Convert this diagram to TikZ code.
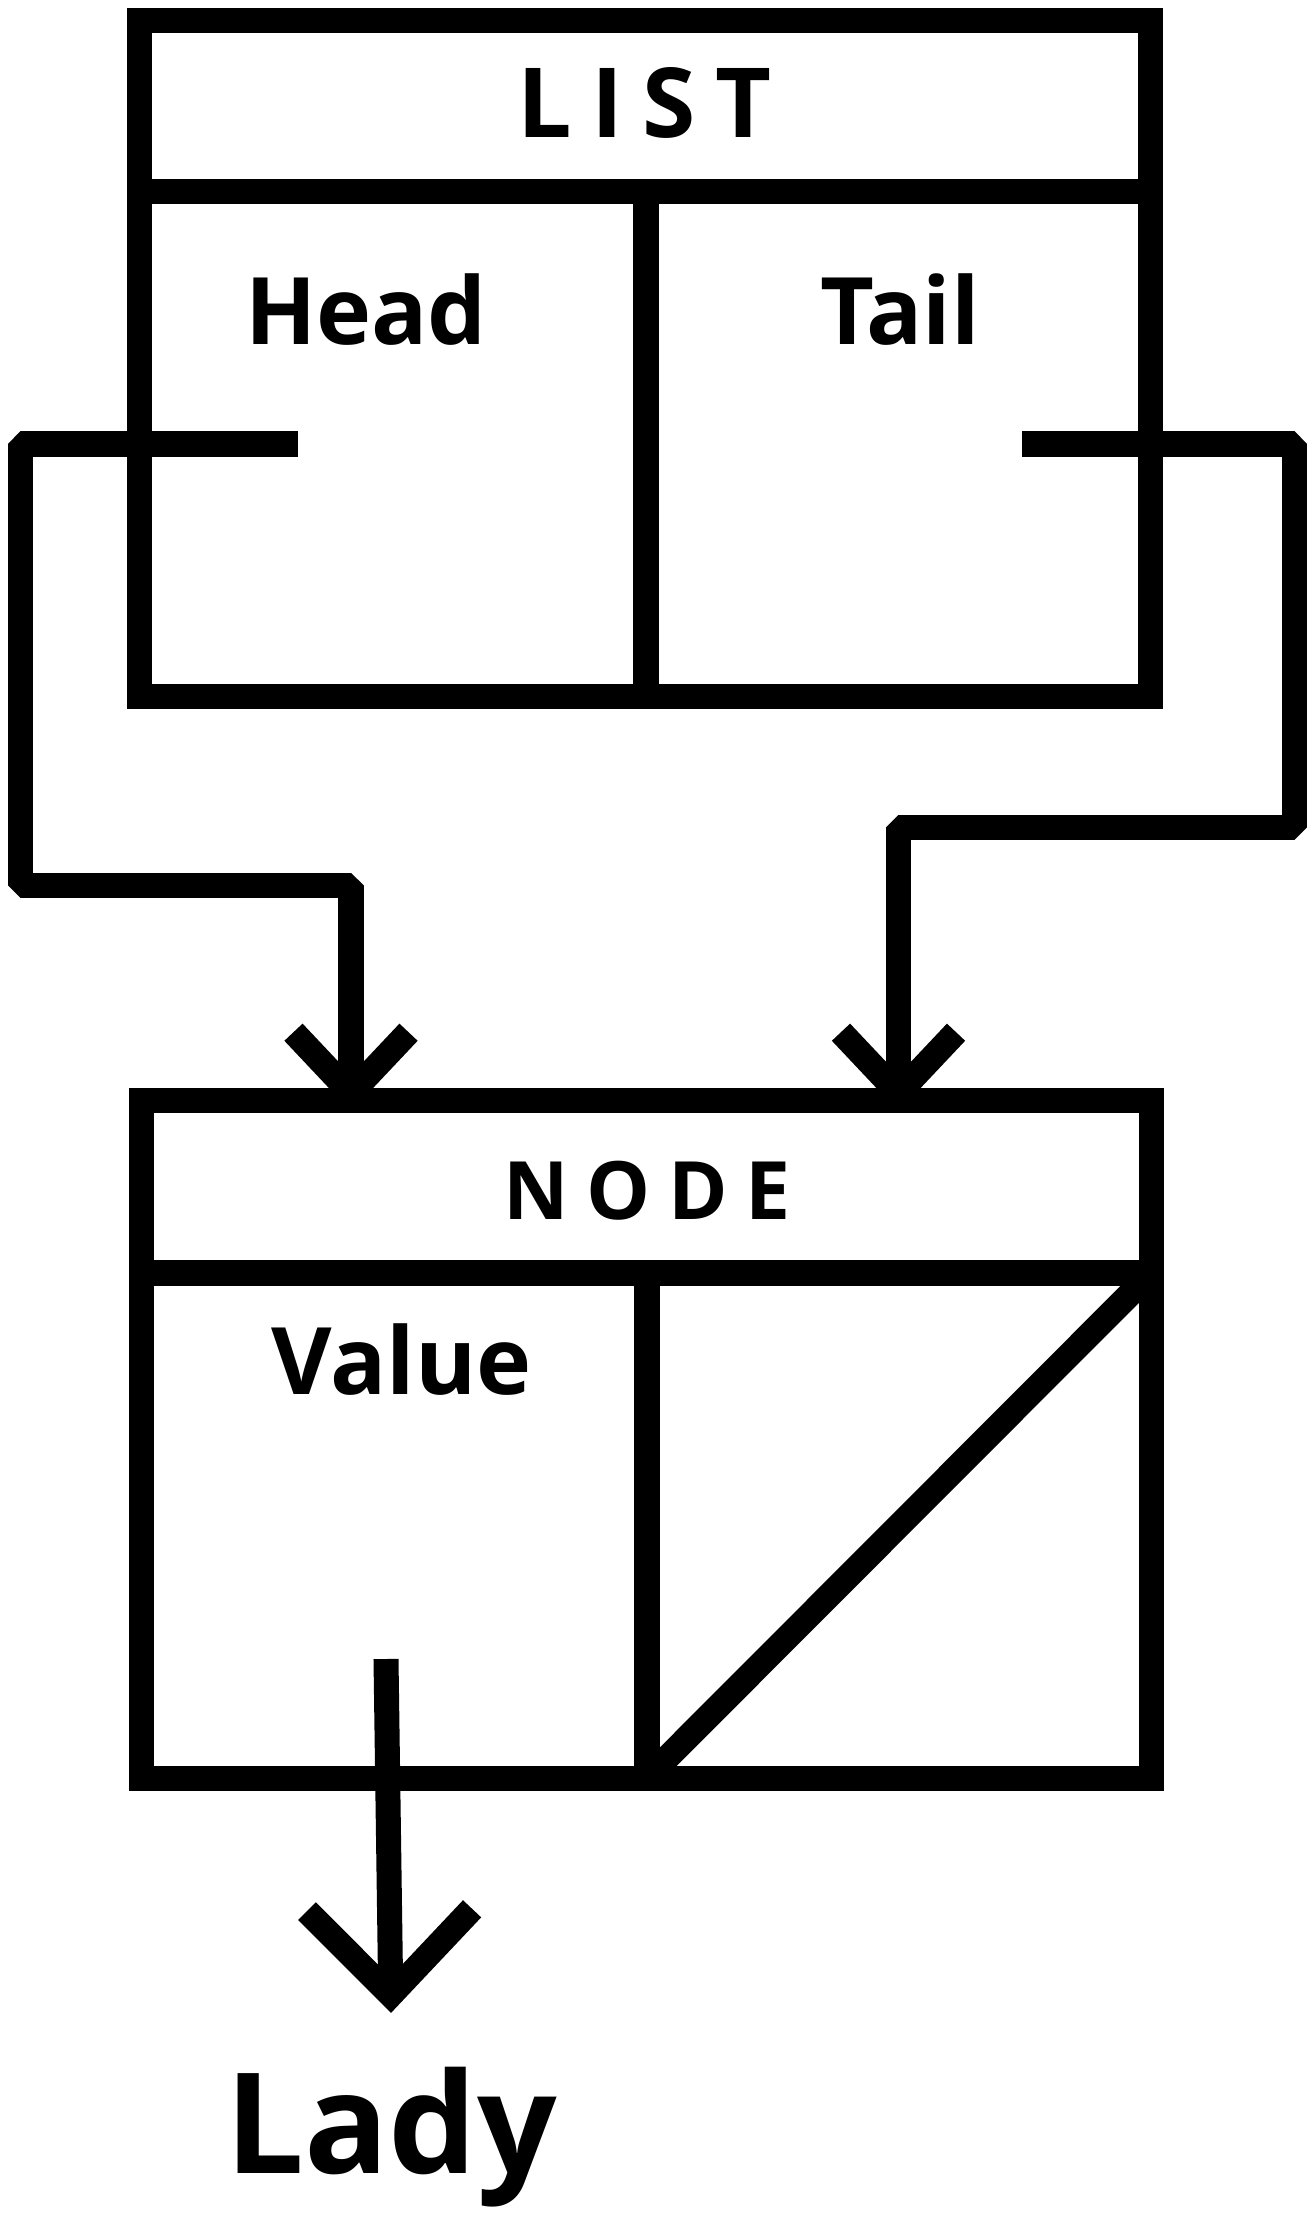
\documentclass[tikz,border=0pt]{standalone}
\usepackage{fontspec}
\setmainfont{Open Sans}
\newfontfamily\listfont[LetterSpace=20]{Open Sans}
\newfontfamily\nodefont[LetterSpace=22]{Open Sans}
\usepackage{tikz}
\usetikzlibrary{arrows.meta}

\begin{document}
\begin{tikzpicture}[
    x=0.01cm, y=-0.01cm,
    cell/.style={draw, rectangle, inner sep=0pt, line width=0.25cm},
    field/.style={font=\bfseries\fontsize{26.5}{30}\selectfont, anchor=base, inner sep=0pt},
    link/.style={line width=0.25cm, line join=bevel,
        -{Straight Barb[line cap=butt, line join=miter, length=6.1mm, width=11.5mm]}}
]
\useasboundingbox (0,0) rectangle (1315,2239);

% List record
\node[cell, minimum width=10.105cm, minimum height=1.71cm] (listtitle) at (645.25,106) {};
\node[cell, minimum width=5.06cm, minimum height=5.045cm] (headcell) at (393,443.75) {};
\node[cell, minimum width=5.045cm, minimum height=5.045cm] (tailcell) at (898.25,443.75) {};
\node[field, font=\listfont\bfseries\fontsize{27.5}{30}\selectfont] (listlbl) at (644.5,137) {LIST};
\node[field] (headlbl) at (366,344) {Head};
\node[field] (taillbl) at (900,344) {Tail};

% Node record
\node[cell, minimum width=10.09cm, minimum height=1.72cm] (nodetitle) at (646.5,1187) {};
\node[cell, minimum width=5.05cm, minimum height=5.05cm] (valuecell) at (394.5,1525.5) {};
\node[cell, minimum width=5.04cm, minimum height=5.05cm] (nextcell) at (899,1525.5) {};
\node[field, font=\nodefont\bfseries\fontsize{22.9}{26}\selectfont] (nodelbl) at (647,1219.5) {NODE};
\node[field] (valuelbl) at (401.5,1394) {Value};
% null next: diagonal kept inside the cell
\begin{scope}
    \clip (nextcell.south west) rectangle (nextcell.north east);
    \draw[line width=0.25cm] (nextcell.south west) -- (nextcell.north east);
\end{scope}

% Value
\node[field, font=\bfseries\fontsize{39.8}{44}\selectfont] (lady) at (391,2173) {Lady};

% Pointers
\coordinate (headptr) at (298,444);
\coordinate (tailptr) at (1022,444);
\coordinate (valptr) at (386,1659);
\draw[link, shorten >=-2.3mm] (headptr) -- (20.5,444) |- (351,885.5) -- (351,0 |- nodetitle.north);
\draw[link, shorten >=-2.3mm] (tailptr) -- (1294.5,444) |- (898.5,827) -- (898.5,0 |- nodetitle.north);
\draw[link, -{Straight Barb[line cap=butt, line join=miter, length=8.5mm, width=16.5mm]}]
    (valptr) -- ([yshift=5.3mm]lady.north);
\end{tikzpicture}
\end{document}
